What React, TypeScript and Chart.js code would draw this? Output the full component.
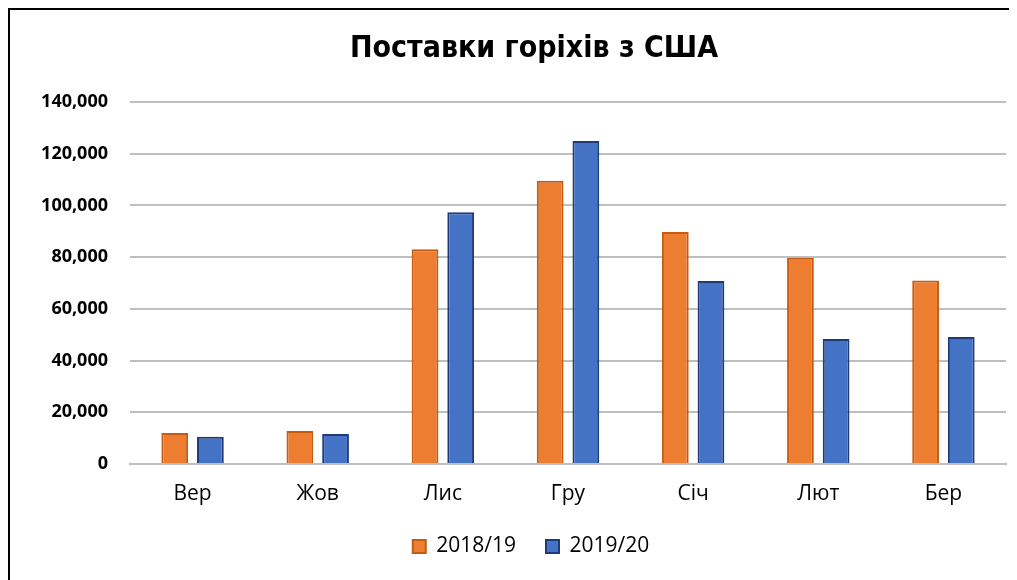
import React, { useEffect, useRef } from "react";
import { Chart, registerables } from "chart.js";

Chart.register(...registerables);

const categories = ["Вер", "Жов", "Лис", "Гру", "Січ", "Лют", "Бер"];
const series2018 = [12000, 12800, 83100, 109500, 89700, 79800, 71000];
const series2019 = [10500, 11600, 97400, 124900, 70800, 48300, 49100];
const seriesNames = ["2018/19", "2019/20"];
const titleText = "Поставки горіхів з США";

const frame = {
  id: "frame",
  afterLayout(chart: any) {
    if (chart.titleBlock) {
      chart.titleBlock.left += 27;
      chart.titleBlock.right += 27;
    }
    if (chart.legend) {
      chart.legend.left += 24;
      chart.legend.right += 24;
    }
  },
  afterDraw(chart: any) {
    const c = chart.ctx;
    c.save();
    c.fillStyle = "#000";
    c.fillRect(0, 0, chart.width, 2);
    c.fillRect(0, 0, 2, chart.height);
    c.restore();
  },
};

export default function App() {
  const ref = useRef<HTMLCanvasElement | null>(null);
  useEffect(() => {
    document.body.style.overflow = "hidden";
    const ctx = ref.current!;
    const chart = new Chart(ctx, {
      type: "bar",
      data: {
        labels: categories,
        datasets: [
          {
            label: seriesNames[0],
            data: series2018,
            backgroundColor: "#ED7D31",
            borderColor: "#C55A11",
            borderWidth: 2,
          },
          {
            label: seriesNames[1],
            data: series2019,
            backgroundColor: "#4472C4",
            borderColor: "#1F3A78",
            borderWidth: 2,
          },
        ],
      },
      plugins: [frame],
      options: {
        animation: false,
        responsive: true,
        maintainAspectRatio: false,
        datasets: { bar: { categoryPercentage: 0.57, barPercentage: 0.75 } },
        layout: { padding: { left: 0, right: 11, top: 0, bottom: 13 } },
        scales: {
          x: {
            grid: { display: false, drawTicks: false },
            border: { color: "#BFBFBF", width: 2 },
            afterFit: (s: any) => {
              s.height = 42;
            },
            ticks: { color: "#000", font: { family: "Open Sans", size: 21 }, padding: 17 },
          },
          y: {
            min: 0,
            max: 140000,
            border: { display: false },
            grid: { color: "#BFBFBF", lineWidth: 2, drawTicks: false },
            afterFit: (s: any) => {
              s.width = 122;
            },
            ticks: {
              stepSize: 20000,
              padding: 22,
              color: "#000",
              font: { family: "Open Sans", size: 18, weight: "bold" },
              callback: (v: any) => Number(v).toLocaleString("en-US"),
            },
          },
        },
        plugins: {
          title: {
            display: true,
            text: titleText,
            color: "#000",
            font: { family: "'DejaVu Sans Condensed', 'Open Sans', sans-serif", size: 30, weight: "bold" },
            padding: { top: 23, bottom: 35 },
          },
          legend: {
            position: "bottom",
            labels: {
              color: "#000",
              font: { family: "Open Sans", size: 21 },
              boxWidth: 13,
              boxHeight: 13,
              padding: 30,
            },
          },
          tooltip: { enabled: false },
        },
      },
    });
    return () => chart.destroy();
  }, []);
  return (
    <div style={{ position: "relative", width: 1009, height: 572 }}>
      <canvas ref={ref} />
    </div>
  );
}
